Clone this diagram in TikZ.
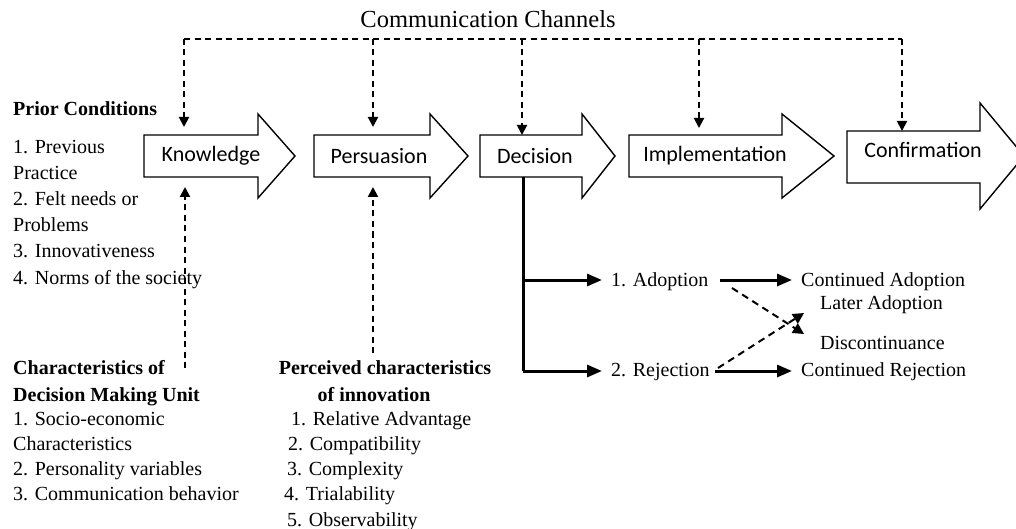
\documentclass[tikz,border=0pt]{standalone}
\usepackage{fontspec}
\setmainfont{Liberation Serif}
\newfontfamily\calib{Carlito}
\usetikzlibrary{arrows.meta}
\begin{document}
\begin{tikzpicture}[x=1pt,y=-1pt,
  blk/.style={draw=black, line width=1.4pt, fill=white, line join=miter},
  lbl/.style={font=\calib\fontsize{22}{26}\selectfont, inner sep=0},
  txt/.style={font=\fontsize{20}{24}\selectfont, anchor=base west, inner sep=0},
  btxt/.style={font=\fontsize{20}{24}\selectfont\bfseries, anchor=base west, inner sep=0},
  ctxt/.style={font=\fontsize{20}{24}\selectfont\bfseries, anchor=base, inner sep=0},
  chan/.style={line width=2pt, dash pattern=on 6pt off 4.5pt},
  chanarr/.style={chan, -{Triangle[width=10pt,length=10pt]}},
  solidarr/.style={line width=3pt, -{Triangle[width=12pt,length=15pt]}},
  dasharr/.style={line width=2pt, dash pattern=on 7pt off 5pt, -{Triangle[width=11pt,length=11pt]}}]
\useasboundingbox (0,0) rectangle (1016,529);
\clip (0,0) rectangle (1016,529);
\fill[white] (0,0) rectangle (1016,529);

% title
\node[font=\fontsize{24.5}{28}\selectfont, anchor=base, inner sep=0] (title) at (488,28) {Communication Channels};

% block arrows
\draw[blk] (144,135) -- (258,135) -- (258,114) -- (295,156) -- (258,198) -- (258,177) -- (144,177) -- cycle;
\draw[blk] (314,135) -- (430,135) -- (430,114) -- (468,156) -- (430,198) -- (430,177) -- (314,177) -- cycle;
\draw[blk] (480,135) -- (582,135) -- (582,114) -- (615,156) -- (582,198) -- (582,177) -- (480,177) -- cycle;
\draw[blk] (629,135) -- (782,135) -- (782,114) -- (834,156) -- (782,198) -- (782,177) -- (629,177) -- cycle;
\draw[blk] (847,131) -- (980,131) -- (980,103) -- (1024,156) -- (980,209) -- (980,183) -- (847,183) -- cycle;

\node[lbl] (know) at (211,156) {Knowledge};
\node[lbl] (pers) at (379,156) {Persuasion};
\node[lbl] (deci) at (535,156) {Decision};
\node[lbl] (impl) at (715,156) {Implementation};
\node[lbl] (conf) at (923,150) {Confirmation};

% communication channels
\coordinate (t1) at (184,39);
\coordinate (t2) at (373,39);
\coordinate (t3) at (522,39);
\coordinate (t4) at (699,39);
\coordinate (t5) at (902,39);
\coordinate (k1) at (184,127);
\coordinate (k2) at (373,127);
\coordinate (k3) at (522,135);
\coordinate (k4) at (699,128);
\coordinate (k5) at (902,131);
\draw[chan] (t1) -- (t5);
\draw[chanarr] (t1) -- (k1);
\draw[chanarr] (t2) -- (k2);
\draw[chanarr] (t3) -- (k3);
\draw[chanarr] (t4) -- (k4);
\draw[chanarr] (t5) -- (k5);

% prior conditions
\node[btxt] (pc) at (13,116) {Prior Conditions};
\node[txt] (pc1) at (13,154) {1. Previous};
\node[txt] (pc1b) at (13,180) {Practice};
\node[txt] (pc2) at (13,206) {2. Felt needs or};
\node[txt] (pc2b) at (13,232) {Problems};
\node[txt] (pc3) at (13,258) {3. Innovativeness};
\node[txt] (pc4) at (13,284) {4. Norms of the society};

% characteristics of decision making unit
\node[btxt] (dm) at (13,374) {Characteristics of};
\node[btxt] (dmb) at (13,401) {Decision Making Unit};
\node[txt] (dm1) at (13,425) {1. Socio-economic};
\node[txt] (dm1b) at (13,450) {Characteristics};
\node[txt] (dm2) at (13,475) {2. Personality variables};
\node[txt] (dm3) at (13,500) {3. Communication behavior};

% perceived characteristics
\node[ctxt] (pi) at (385,374) {Perceived characteristics};
\node[ctxt] (pib) at (374,401) {of innovation};
\node[txt] (pi1) at (291,425) {1. Relative Advantage};
\node[txt] (pi2) at (288,450) {2. Compatibility};
\node[txt] (pi3) at (287,475) {3. Complexity};
\node[txt] (pi4) at (284,500) {4. Trialability};
\node[txt] (pi5) at (287,526) {5. Observability};

% upward dashed arrows
\coordinate (u1s) at (185,368);
\coordinate (u1e) at (185,187);
\coordinate (u2s) at (373,353);
\coordinate (u2e) at (373,187);
\draw[chanarr] (u1s) -- (u1e);
\draw[chanarr] (u2s) -- (u2e);

% decision branches
\coordinate (d0) at (523,177);
\coordinate (d1) at (523,280);
\coordinate (d2) at (523,371);
\node[txt] (adop) at (611,286) {1. Adoption};
\node[txt] (rej) at (611,376) {2. Rejection};
\node[txt] (cadop) at (801,286) {Continued Adoption};
\node[txt] (later) at (820,309) {Later Adoption};
\node[txt] (disc) at (820,349) {Discontinuance};
\node[txt] (crej) at (801,376) {Continued Rejection};
\draw[line width=3pt] (d0) -- (d2);
\coordinate (a1e) at (602,280);
\coordinate (a2e) at (602,371);
\draw[solidarr] (d1) -- (a1e);
\draw[solidarr] (d2) -- (a2e);
\coordinate (b1s) at (720,280);
\coordinate (b1e) at (792,280);
\coordinate (b2s) at (715,371);
\coordinate (b2e) at (792,371);
\draw[solidarr] (b1s) -- (b1e);
\draw[solidarr] (b2s) -- (b2e);
\coordinate (x1s) at (732,288);
\coordinate (x1e) at (804,334);
\coordinate (x2s) at (718,368);
\coordinate (x2e) at (804,313);
\draw[dasharr] (x1s) -- (x1e);
\draw[dasharr] (x2s) -- (x2e);
\end{tikzpicture}
\end{document}
